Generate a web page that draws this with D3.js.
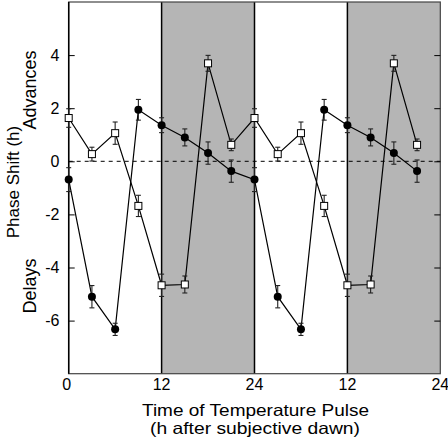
<!DOCTYPE html>
<html><head><meta charset="utf-8">
<script src="https://cdn.jsdelivr.net/npm/d3@7"></script>
<style>body{margin:0;background:#fff}svg{display:block}text{font-family:"Liberation Sans",Arial,Helvetica,sans-serif;fill:#000}</style>
</head><body>
<script>
const times = [0,3,6,9,12,15,18,21,24,27,30,33,36,39,42,45];
const squareValues = [1.63,0.27,1.06,-1.68,-4.67,-4.64,3.69,0.62,1.63,0.27,1.06,-1.68,-4.67,-4.64,3.69,0.62];
const squareErrors = [0.35,0.26,0.42,0.40,0.42,0.32,0.30,0.22,0.35,0.26,0.42,0.40,0.42,0.32,0.30,0.22];
const circleValues = [-0.69,-5.10,-6.33,1.94,1.36,0.90,0.31,-0.37,-0.69,-5.10,-6.33,1.94,1.36,0.90,0.31,-0.37];
const circleErrors = [0.45,0.42,0.23,0.39,0.28,0.32,0.42,0.42,0.45,0.42,0.23,0.39,0.28,0.32,0.42,0.42];
const shadedSpans = [[12,24],[36,48]];
const xTickValues = [0,12,24,36,48];
const xTickLabels = ["0","12","24","12","24"];
const yTickValues = [-6,-4,-2,0,2,4];

const W=448,H=439;
const svg=d3.select("body").append("svg").attr("width",W).attr("height",H);
const x=d3.scaleLinear().domain([0,48]).range([68.7,440.3]);
const y=d3.scaleLinear().domain([-8,6]).range([373.7,2]);

// shading
svg.selectAll("rect.shade").data(shadedSpans).enter().append("rect")
  .attr("x",d=>x(d[0])).attr("y",y(6)).attr("width",d=>x(d[1])-x(d[0])).attr("height",y(-8)-y(6))
  .attr("fill","#b5b5b5");
svg.selectAll("line.edge").data([12,24,36]).enter().append("line")
  .attr("x1",d=>x(d)).attr("x2",d=>x(d)).attr("y1",y(6)).attr("y2",y(-8))
  .attr("stroke","#000").attr("stroke-width",1.5);

// frame
svg.append("rect").attr("x",x(0)).attr("y",y(6)).attr("width",x(48)-x(0)).attr("height",y(-8)-y(6))
  .attr("fill","none").attr("stroke","#444").attr("stroke-width",1.2);
svg.append("line").attr("x1",x(0)).attr("x2",x(0)).attr("y1",y(6)).attr("y2",y(-8)).attr("stroke","#000").attr("stroke-width",1.5);

// zero line
svg.append("line").attr("x1",x(0)).attr("x2",x(48)).attr("y1",y(0)).attr("y2",y(0))
  .attr("stroke","#000").attr("stroke-width",1).attr("stroke-dasharray","4,4");

// axes
const yAxisL=d3.axisRight(y).tickValues(yTickValues).tickSize(6).tickFormat("");
const gL=svg.append("g").attr("transform",`translate(${x(0)},0)`).call(yAxisL);
gL.select(".domain").remove();
gL.selectAll(".tick line").attr("stroke","#000");
const yAxisR=d3.axisLeft(y).tickValues(yTickValues).tickSize(6).tickFormat("");
const gR=svg.append("g").attr("transform",`translate(${x(48)},0)`).call(yAxisR);
gR.select(".domain").remove();
gR.selectAll(".tick line").attr("stroke","#000");

svg.append("g").selectAll("text").data(yTickValues).enter().append("text")
  .attr("x",59.5).attr("y",d=>y(d)).attr("dy","0.36em").attr("text-anchor","end")
  .attr("font-size",16).text(d=>String(d));
svg.append("g").selectAll("text").data(xTickValues).enter().append("text")
  .attr("x",(d,i)=>x(d)-(i===0?2:0)).attr("y",390).attr("text-anchor","middle")
  .attr("font-size",16).text((d,i)=>xTickLabels[i]);

// titles
svg.append("text").attr("transform","translate(19,182) rotate(-90)").attr("text-anchor","middle")
  .attr("font-size",17).text("Phase Shift (h)");
svg.append("text").attr("transform","translate(36,90) rotate(-90)").attr("text-anchor","middle")
  .attr("font-size",18).text("Advances");
svg.append("text").attr("transform","translate(36,286) rotate(-90)").attr("text-anchor","middle")
  .attr("font-size",18).text("Delays");
svg.append("text").attr("x",255.5).attr("y",415.5).attr("text-anchor","middle").attr("font-size",16.5)
  .attr("textLength",227).attr("lengthAdjust","spacingAndGlyphs").text("Time of Temperature Pulse");
svg.append("text").attr("x",255).attr("y",434).attr("text-anchor","middle").attr("font-size",16.5)
  .attr("textLength",210).attr("lengthAdjust","spacingAndGlyphs").text("(h after subjective dawn)");

function series(vals,errs,kind){
  const pts=times.map((t,i)=>({t,v:vals[i],e:errs[i]}));
  const g=svg.append("g");
  g.append("path").datum(pts).attr("fill","none").attr("stroke","#000").attr("stroke-width",1.2)
    .attr("d",d3.line().x(d=>x(d.t)).y(d=>y(d.v)));
  const eb=g.selectAll("g.eb").data(pts).enter().append("g").attr("stroke","#222").attr("stroke-width",1.1);
  eb.append("line").attr("x1",d=>x(d.t)).attr("x2",d=>x(d.t)).attr("y1",d=>y(d.v+d.e)).attr("y2",d=>y(d.v-d.e));
  eb.append("line").attr("x1",d=>x(d.t)-2.5).attr("x2",d=>x(d.t)+2.5).attr("y1",d=>y(d.v+d.e)).attr("y2",d=>y(d.v+d.e));
  eb.append("line").attr("x1",d=>x(d.t)-2.5).attr("x2",d=>x(d.t)+2.5).attr("y1",d=>y(d.v-d.e)).attr("y2",d=>y(d.v-d.e));
  if(kind==="square"){
    g.selectAll("rect.m").data(pts).enter().append("rect")
      .attr("x",d=>x(d.t)-3.5).attr("y",d=>y(d.v)-3.5).attr("width",7).attr("height",7)
      .attr("fill","#fff").attr("stroke","#000").attr("stroke-width",1);
  } else {
    g.selectAll("circle.m").data(pts).enter().append("circle")
      .attr("cx",d=>x(d.t)).attr("cy",d=>y(d.v)).attr("r",4).attr("fill","#000");
  }
}
series(circleValues,circleErrors,"circle");
series(squareValues,squareErrors,"square");
</script>
</body></html>
